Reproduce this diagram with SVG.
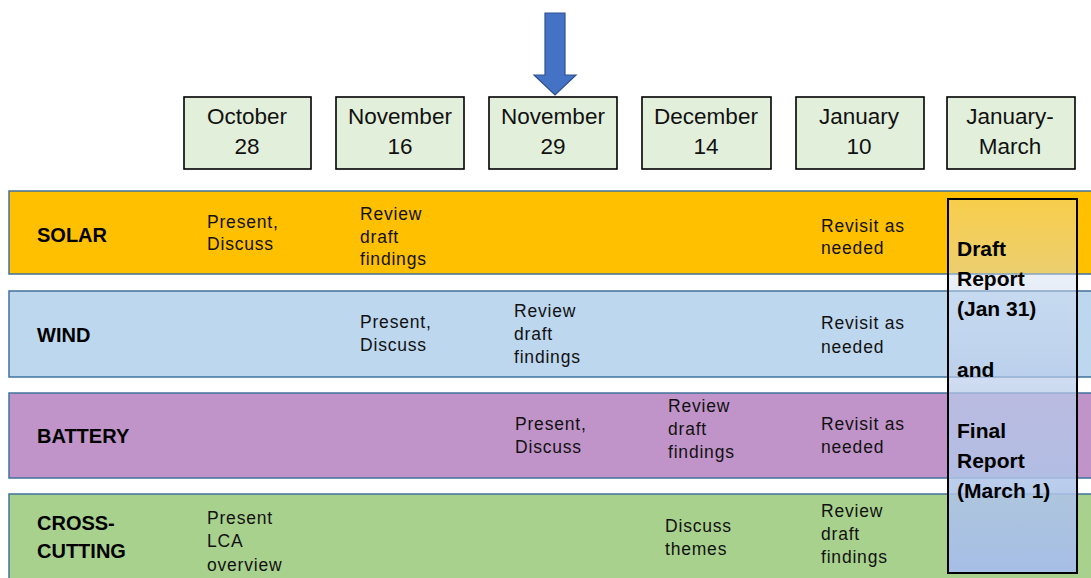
<svg xmlns="http://www.w3.org/2000/svg" width="1091" height="578" viewBox="0 0 1091 578">
<style>
.date rect{fill:#E2EFDA;stroke:#000;stroke-width:1.6}
.date text{font-family:"Liberation Sans",Arial,sans-serif;font-size:22.5px;fill:#111;text-anchor:middle}
.row rect{stroke:#41719C;stroke-width:1.5}
.lbl{font-family:"Liberation Sans",Arial,sans-serif;font-size:20px;font-weight:bold;fill:#000}
.act{font-family:"Liberation Sans",Arial,sans-serif;font-size:17.5px;letter-spacing:0.8px;fill:#111}
.fin{font-family:"Liberation Sans",Arial,sans-serif;font-size:21px;font-weight:bold;fill:#000}
</style>
<defs>
<linearGradient id="g" x1="0" y1="0" x2="0" y2="1">
<stop offset="0" stop-color="#E4ECF8" stop-opacity="0.3"/>
<stop offset="0.5" stop-color="#B8CBEA" stop-opacity="0.7"/>
<stop offset="1" stop-color="#A6BEE6" stop-opacity="1"/>
</linearGradient>
</defs>
<rect width="1091" height="578" fill="#fff"/>

<g id="row-solar" class="row">
<rect x="9" y="191" width="1100" height="83" fill="#FFC000"/>
<text class="lbl" x="37" y="242">SOLAR</text>
<text class="act" x="207" y="228">Present,<tspan x="207" y="250">Discuss</tspan></text>
<text class="act" x="360" y="220">Review<tspan x="360" y="243">draft</tspan><tspan x="360" y="265">findings</tspan></text>
<text class="act" x="821" y="232">Revisit as<tspan x="821" y="254">needed</tspan></text>
</g>
<g id="row-wind" class="row">
<rect x="9" y="291" width="1100" height="86" fill="#BDD7EE"/>
<text class="lbl" x="37" y="342">WIND</text>
<text class="act" x="360" y="328">Present,<tspan x="360" y="351">Discuss</tspan></text>
<text class="act" x="514" y="317">Review<tspan x="514" y="340">draft</tspan><tspan x="514" y="363">findings</tspan></text>
<text class="act" x="821" y="329">Revisit as<tspan x="821" y="353">needed</tspan></text>
</g>
<g id="row-battery" class="row">
<rect x="9" y="393" width="1100" height="85" fill="#C194C9"/>
<text class="lbl" x="37" y="443">BATTERY</text>
<text class="act" x="515" y="430">Present,<tspan x="515" y="453">Discuss</tspan></text>
<text class="act" x="668" y="412">Review<tspan x="668" y="435">draft</tspan><tspan x="668" y="458">findings</tspan></text>
<text class="act" x="821" y="430">Revisit as<tspan x="821" y="453">needed</tspan></text>
</g>
<g id="row-cross" class="row">
<rect x="9" y="494" width="1100" height="100" fill="#A9D18E"/>
<text class="lbl" x="37" y="530">CROSS-<tspan x="37" y="558">CUTTING</tspan></text>
<text class="act" x="207" y="524">Present<tspan x="207" y="547">LCA</tspan><tspan x="207" y="571">overview</tspan></text>
<text class="act" x="665" y="532">Discuss<tspan x="665" y="555">themes</tspan></text>
<text class="act" x="821" y="517">Review<tspan x="821" y="540">draft</tspan><tspan x="821" y="563">findings</tspan></text>
</g>

<g id="reports">
<rect x="948" y="199" width="129" height="374" fill="url(#g)" stroke="#000" stroke-width="2"/>
<text class="fin" x="957" y="256">Draft<tspan x="957" y="286">Report</tspan><tspan x="957" y="316">(Jan 31)</tspan><tspan x="957" y="377">and</tspan><tspan x="957" y="438">Final</tspan><tspan x="957" y="468">Report</tspan><tspan x="957" y="498">(March 1)</tspan></text>
</g>

<g id="date-oct28" class="date"><rect x="184" y="97" width="127" height="72"/><text x="247" y="124">October<tspan x="247" y="154">28</tspan></text></g>
<g id="date-nov16" class="date"><rect x="336" y="97" width="128" height="72"/><text x="400" y="124">November<tspan x="400" y="154">16</tspan></text></g>
<g id="date-nov29" class="date"><rect x="489" y="97" width="128" height="72"/><text x="553" y="124">November<tspan x="553" y="154">29</tspan></text></g>
<g id="date-dec14" class="date"><rect x="642" y="97" width="129" height="72"/><text x="706" y="124">December<tspan x="706" y="154">14</tspan></text></g>
<g id="date-jan10" class="date"><rect x="796" y="97" width="128" height="72"/><text x="859" y="124">January<tspan x="859" y="154">10</tspan></text></g>
<g id="date-janmar" class="date"><rect x="947" y="97" width="128" height="72"/><text x="1010" y="124">January-<tspan x="1010" y="154">March</tspan></text></g>

<g id="connectors">
<polygon points="545,13 565,13 565,75 576,75 555,95 534,75 545,75" fill="#4472C4" stroke="#2F528F" stroke-width="1.2"/>
</g>
</svg>
